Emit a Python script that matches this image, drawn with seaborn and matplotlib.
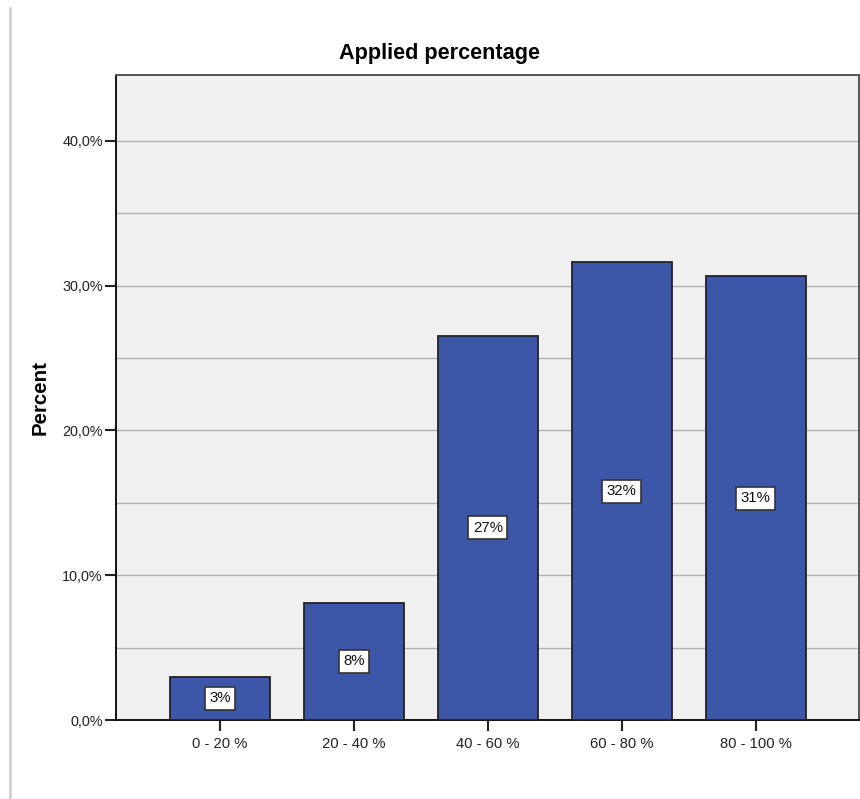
import matplotlib
matplotlib.use("Agg")
import matplotlib.pyplot as plt
from matplotlib.ticker import MultipleLocator, FuncFormatter
from matplotlib.lines import Line2D
import seaborn as sns
import pandas as pd

# Share of respondents per applied-percentage band
categories = ["0 - 20 %", "20 - 40 %", "40 - 60 %", "60 - 80 %", "80 - 100 %"]
percent = [2.97, 8.09, 26.54, 31.63, 30.64]

df = pd.DataFrame({"band": categories, "percent": percent})

sns.set_style("white")
plt.rcParams["font.family"] = ["Liberation Sans", "DejaVu Sans"]

W, H = 860, 799
fig = plt.figure(figsize=(W / 100, H / 100), dpi=100)
ax_l, ax_r, ax_t, ax_b = 116, 859, 75, 720
ax = fig.add_axes([ax_l / W, 1 - ax_b / H, (ax_r - ax_l) / W, (ax_b - ax_t) / H])
ax.set_facecolor("#F0F0F0")

bar_color = "#3C56A8"
sns.barplot(data=df, x="band", y="percent", color=bar_color, saturation=1,
            width=0.75, edgecolor="#222222", linewidth=1.3, ax=ax, zorder=3)

ax.set_xlim(-0.776, 4.770)
ax.set_ylim(0, 44.55)

# y axis: labelled every 10 %, grid every 5 %
ax.yaxis.set_major_locator(MultipleLocator(10))
ax.yaxis.set_minor_locator(MultipleLocator(5))
ax.yaxis.set_major_formatter(FuncFormatter(lambda v, _: f"{v:.1f}".replace(".", ",") + "%"))
ax.grid(axis="y", which="both", color="#B2B2B2", linewidth=1.0, zorder=0)
ax.set_axisbelow(True)

ax.tick_params(axis="y", which="major", left=True, direction="out", length=8, width=1.5,
               color="#222222", labelsize=10.4, labelcolor="#222222", pad=1.5)
ax.tick_params(axis="y", which="minor", left=False, length=0)
ax.tick_params(axis="x", bottom=True, direction="out", length=8, width=1.5,
               color="#222222", labelsize=10.6, labelcolor="#222222", pad=4)

for side in ["left", "bottom"]:
    ax.spines[side].set_color("#111111")
    ax.spines[side].set_linewidth(1.4)
for side in ["top", "right"]:
    ax.spines[side].set_visible(True)
    ax.spines[side].set_color("#555555")
    ax.spines[side].set_linewidth(1.4)

ax.set_xlabel("")
ax.set_ylabel("Percent", fontsize=14.8, fontweight="bold", va="center", color="black")
ax.yaxis.set_label_coords((40 - ax_l) / (ax_r - ax_l), 0.5)

ax.set_title("Applied percentage", fontsize=15.6, fontweight="bold", color="black",
             x=(439.5 - ax_l) / (ax_r - ax_l), y=(ax_b - 59) / (ax_b - ax_t), pad=0)

# value labels in the middle of each bar
for i, v in enumerate(percent):
    ax.text(i, v / 2, f"{v:.0f}%", ha="center", va="center", fontsize=10.8,
            color="#111111", zorder=5,
            bbox=dict(boxstyle="square,pad=0.3", facecolor="white",
                      edgecolor="#333333", linewidth=1.2))

# thin shaded border on the left edge of the canvas
fig.add_artist(Line2D([9.5 / W, 9.5 / W], [0, 1 - 8 / H], transform=fig.transFigure,
                      color="#D4D4D4", linewidth=2.2))

fig.savefig("out.png", dpi=100)
